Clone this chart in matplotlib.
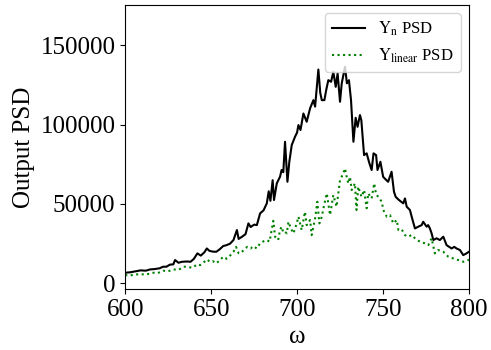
import matplotlib.pyplot as plt
import numpy as np

plt.rcParams['font.family'] = ['Liberation Serif', 'DejaVu Serif']
plt.rcParams['mathtext.fontset'] = 'stix'

# Y_n PSD
w_n = [600, 603, 606, 609, 612, 614.5, 617, 620, 622, 624, 626, 628, 629, 631, 633, 636, 638,
       640, 642, 644, 646, 647.5, 649, 651, 653, 655, 657, 659, 661, 663, 665, 666, 668, 670,
       671.7, 673, 675, 676.6, 678.5, 680.5, 682.4, 683.5, 684.5, 685.8, 686.6, 688.2, 690.1,
       691, 692, 693, 694.4, 695.5, 696.9, 698.8, 700, 700.8, 702, 703.7, 705.6, 707.6, 709.5,
       710.5, 712.4, 713.5, 714.4, 715.9, 717, 718.2, 719.8, 721.1, 722.5, 723.6, 725, 726,
       727.9, 729, 730.2, 731.4, 732.8, 734.1, 735.2, 736.6, 737.4, 739, 740.5, 742, 743.4,
       744.5, 746, 746.8, 748.5, 750.1, 752, 753, 755, 756.4, 757.4, 759.3, 761.8, 762.8,
       763.8, 765.7, 766.7, 768.6, 770.5, 772.5, 773.4, 775.4, 776.3, 777.3, 778.3, 779.3,
       781.2, 783.1, 785.1, 787, 789.9, 791.5, 792.8, 794.8, 796.7, 798.6, 800]
psd_n = [6700, 7000, 7600, 8200, 8000, 8800, 9000, 9500, 10500, 10500, 11800, 12000, 14700,
         13000, 13600, 13800, 13600, 15500, 18900, 17500, 19500, 22000, 20500, 20000, 19900,
         21500, 23500, 24100, 25000, 27300, 33600, 28000, 29400, 31000, 37800, 35500, 37000,
         36700, 44100, 46000, 50400, 58000, 52000, 65000, 52500, 63000, 67200, 71400, 70000,
         89200, 64000, 76600, 87100, 92300, 95000, 99700, 96600, 107000, 101800, 110300,
         115400, 111300, 134700, 120000, 115400, 115400, 122000, 128000, 127000, 133200,
         123800, 132200, 114400, 126000, 136400, 126000, 128000, 115400, 89200, 104300, 98600,
         106000, 102800, 80800, 81900, 76000, 71400, 81900, 80800, 71400, 76600, 67100, 65000,
         64000, 70300, 57700, 54500, 52500, 50400, 53500, 48300, 46200, 42000, 34600, 35700,
         36700, 38800, 35700, 36700, 34600, 31500, 27300, 28400, 27300, 29400, 24100, 22000,
         23000, 22000, 21000, 17800, 18900, 19900]

# Y_linear PSD
w_lin = [600, 603, 605, 608.7, 612, 616.5, 619, 622, 625, 628, 631, 634, 636, 639, 642, 643.6,
         645.5, 647.5, 649.5, 651, 653, 655, 657, 659, 661, 663, 664.5, 666, 667, 669, 671, 673,
         674.6, 676.5, 678.5, 680.5, 682.4, 684, 686.2, 687.2, 689, 690.1, 691, 692, 693, 694,
         695, 696.4, 697.9, 699.8, 700.8, 702.7, 704.6, 705.6, 707.6, 708.5, 710.5, 711.8, 713,
         714.4, 715.5, 717.3, 719.2, 721.1, 723, 725, 726.9, 727.9, 728.9, 729.8, 730.8, 731.8,
         733.7, 734.6, 735.6, 737.5, 739, 740.5, 741.4, 743.4, 744.9, 746, 747.3, 749.3, 750.2,
         752.2, 754.1, 756, 758, 759, 760.9, 762.8, 764.7, 766.7, 768.6, 771.5, 774.4, 776.4,
         778.3, 780.2, 782.1, 785.1, 788, 790.9, 793.8, 796.7, 799.6, 800]
psd_lin = [5200, 5000, 5500, 5800, 5600, 6700, 6500, 8000, 7600, 8800, 8500, 10500, 10500,
           9800, 12000, 11500, 13000, 15100, 13500, 14000, 12600, 14500, 16800, 15500, 17500,
           19900, 23000, 19000, 18900, 21000, 23000, 22000, 23500, 22000, 25200, 26500, 27300,
           26300, 39400, 29400, 27300, 33600, 35700, 32000, 32500, 31500, 38800, 34600, 31500,
           37800, 42000, 33600, 45100, 36700, 39900, 30400, 40900, 51400, 37800, 42000, 48000,
           56700, 43000, 55600, 48300, 65000, 69300, 72400, 67100, 63000, 67100, 58800, 63000,
           46200, 60900, 54500, 58800, 47300, 56700, 53500, 63000, 56000, 54500, 51400, 46200,
           42000, 43000, 37800, 39900, 33600, 34000, 30400, 29400, 30500, 28400, 26200, 25200,
           24100, 28400, 18900, 21000, 19900, 16800, 15700, 14700, 13600, 14700, 14500]

fig = plt.figure(figsize=(4.91, 3.5), dpi=100)
ax = fig.add_axes([0.255, 0.174, 0.7, 0.812])
ax.plot(w_n, psd_n, color='black', linewidth=1.5, label=r'$\mathrm{Y_n}$ PSD')
ax.plot(w_lin, psd_lin, color='green', linestyle=':', linewidth=1.5,
        label=r'$\mathrm{Y_{linear}}$ PSD')
ax.set_xlim(600, 800)
ax.set_ylim(-3600, 175400)
ax.set_xticks([600, 650, 700, 750, 800])
ax.set_yticks([0, 50000, 100000, 150000])
ax.tick_params(labelsize=18)
ax.set_xlabel('ω', fontsize=18)
ax.set_ylabel('Output PSD', fontsize=18)
ax.legend(loc='upper right', fontsize=12)
fig.savefig('out.png', dpi=100)
